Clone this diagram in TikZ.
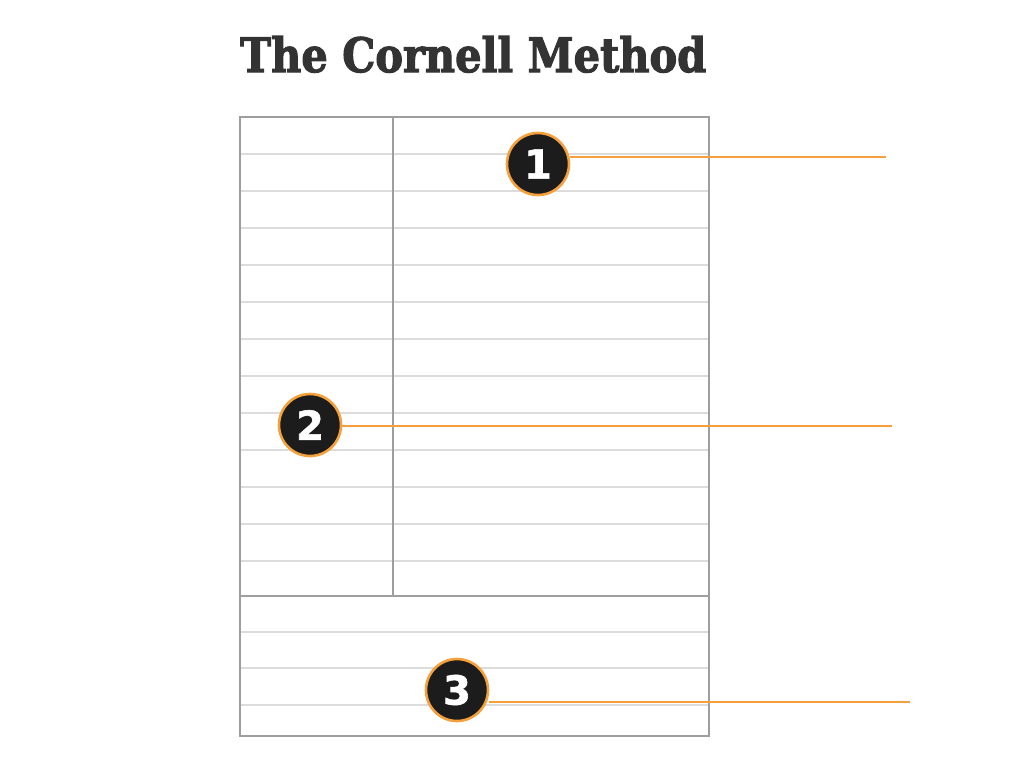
\documentclass[tikz,border=0pt]{standalone}
\usepackage{fontspec}
\usepackage{graphicx}
\newfontfamily\titlefont{DejaVu Serif}[BoldFeatures={FakeBold=2.5}]
\newfontfamily\numfont{DejaVu Sans}[BoldFeatures={FakeBold=1.5}]
\usepackage{tikz}
\usetikzlibrary{positioning,calc}
\definecolor{leadorange}{HTML}{F5A03C}
\definecolor{framegray}{HTML}{9E9E9E}
\definecolor{rulegray}{HTML}{DCDCDC}
\definecolor{titlegray}{HTML}{333333}
\definecolor{disc}{HTML}{1C1C1C}
\tikzset{frame/.style={draw=framegray, line width=2.8pt},
         rule/.style={draw=rulegray, line width=1.8pt},
         lead/.style={draw=leadorange, line width=2pt},
         badge/.style={circle, fill=disc, draw=leadorange, line width=2.6pt,
                       minimum size=62pt, text=white,
                       font=\numfont\bfseries\fontsize{40}{40}\selectfont},
         heading/.style={text=titlegray, font=\titlefont\bfseries}
}

\begin{document}
\begin{tikzpicture}[x=1pt,y=-1pt]
  \tikzstyle{every node}=[inner sep=0pt]
  \useasboundingbox (0,0) rectangle (1024,756);
  % lines of the page
  \foreach \y in {154,191,...,561}
    \draw[rule] (240,\y) -- (709,\y);
  \foreach \y in {632,668,705}
    \draw[rule] (240,\y) -- (709,\y);
  \draw[frame] (240,117) rectangle (709,736);
  \draw[frame] (393,117) -- (393,596);
  \draw[frame] (240,596) -- (709,596);
  \node[heading, anchor=base west] (title) at (240,72)
    {\resizebox{466pt}{36pt}{The Cornell Method}};
  % numbered markers
  \node[badge] (n1) at (538,164) {1};
  \node[badge] (n2) at (310,425) {2};
  \node[badge] (n3) at (457,690) {3};
  \coordinate (e1) at (886,157);
  \coordinate (e2) at (892,426);
  \coordinate (e3) at (910,702);
  \draw[lead] (n1.east |- e1) -- (e1);
  \draw[lead] (n2.east |- e2) -- (e2);
  \draw[lead] (n3.east |- e3) -- (e3);
\end{tikzpicture}
\end{document}
